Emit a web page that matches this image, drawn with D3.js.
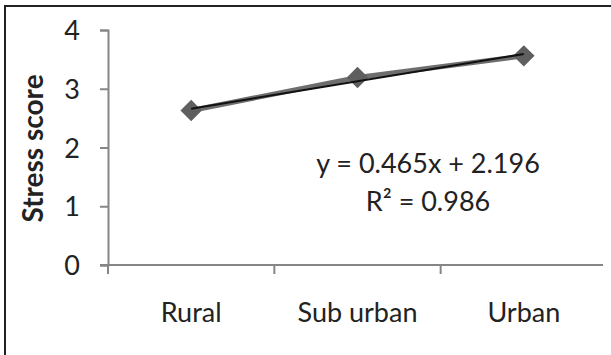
<!DOCTYPE html>
<html lang="en">
<head>
  <meta charset="UTF-8">
  <script src="https://cdn.jsdelivr.net/npm/d3@7"></script>
  <title>Stress score</title>
  <style>
    body { margin: 0; background: #fff; }
    text { font-family: Lato, "Open Sans", sans-serif; fill: #222; }
  </style>
</head>
<body>
  <svg width="611" height="355"></svg>
  <script>
    var categories = ["Rural", "Sub urban", "Urban"];
    var stress = [2.63, 3.19, 3.56];
    var yTicks = [0, 1, 2, 3, 4];
    var trend = { slope: 0.465, intercept: 2.196, r2: 0.986 };

    var svg = d3.select("svg");
    var marge = { top: 30, bottom: 90, left: 108, right: 5 };
    var width = +svg.attr("width");
    var height = +svg.attr("height");

    // outer frame (only top and left visible)
    svg.append("rect")
      .attr("x", 5).attr("y", 6)
      .attr("width", 620).attr("height", 360)
      .attr("fill", "none")
      .attr("stroke", "#222")
      .attr("stroke-width", 2);

    var xScale = d3.scaleBand()
      .domain(categories)
      .range([marge.left, width - marge.right + 1]);
    var yScale = d3.scaleLinear()
      .domain([0, 4])
      .range([height - marge.bottom, marge.top]);

    // y axis
    var yAxis = svg.append("g")
      .attr("transform", "translate(" + marge.left + ",0)")
      .call(d3.axisLeft(yScale).tickValues(yTicks).tickSize(8).tickPadding(20).tickFormat(d3.format("d")));
    yAxis.selectAll("text").attr("font-size", 27).attr("fill", "#222").attr("dy", "0.36em");

    // x axis, ticks at category boundaries
    var xAxis = svg.append("g")
      .attr("transform", "translate(0," + yScale(0) + ")")
      .call(d3.axisBottom(xScale).tickSize(0).tickPadding(0));
    xAxis.selectAll("text").attr("font-size", 27).attr("fill", "#222").attr("y", 57).attr("dy", 0);
    xAxis.select(".domain").attr("d", "M100,0H603");
    var bounds = categories.map(c => xScale(c));
    xAxis.selectAll(".bound")
      .data(bounds)
      .enter().append("line")
      .attr("x1", d => d).attr("x2", d => d)
      .attr("y1", 0).attr("y2", 9)
      .attr("stroke", "#868686").attr("stroke-width", 2);

    svg.selectAll(".domain, .tick line")
      .attr("stroke", "#868686")
      .attr("stroke-width", 2);

    var cx = d => xScale(d) + xScale.bandwidth() / 2;

    // series line
    var line = d3.line()
      .x((d, i) => cx(categories[i]))
      .y(d => yScale(d));
    svg.append("path")
      .datum(stress)
      .attr("d", line)
      .attr("fill", "none")
      .attr("stroke", "#6e6e6e")
      .attr("stroke-width", 5);

    // markers
    svg.selectAll(".pt")
      .data(stress)
      .enter().append("path")
      .attr("d", d3.symbol().type(d3.symbolSquare).size(230))
      .attr("transform", (d, i) => "translate(" + cx(categories[i]) + "," + yScale(d) + ") rotate(45)")
      .attr("fill", "#5f5f5f");

    // linear trendline
    var trendPts = categories.map((c, i) => trend.slope * (i + 1) + trend.intercept);
    svg.append("path")
      .datum(trendPts)
      .attr("d", line)
      .attr("fill", "none")
      .attr("stroke", "#111")
      .attr("stroke-width", 2);

    // equation label
    var eq = svg.append("text")
      .attr("text-anchor", "middle")
      .attr("font-size", 27);
    eq.append("tspan").attr("x", 428).attr("y", 173)
      .text("y = " + trend.slope + "x + " + trend.intercept);
    eq.append("tspan").attr("x", 428).attr("y", 211)
      .text("R² = " + trend.r2);

    // y axis title
    svg.append("text")
      .attr("transform", "translate(43," + (yScale(2) + 1) + ") rotate(-90)")
      .attr("text-anchor", "middle")
      .attr("font-size", 28)
      .attr("font-weight", "bold")
      .text("Stress score");
  </script>
</body>
</html>
